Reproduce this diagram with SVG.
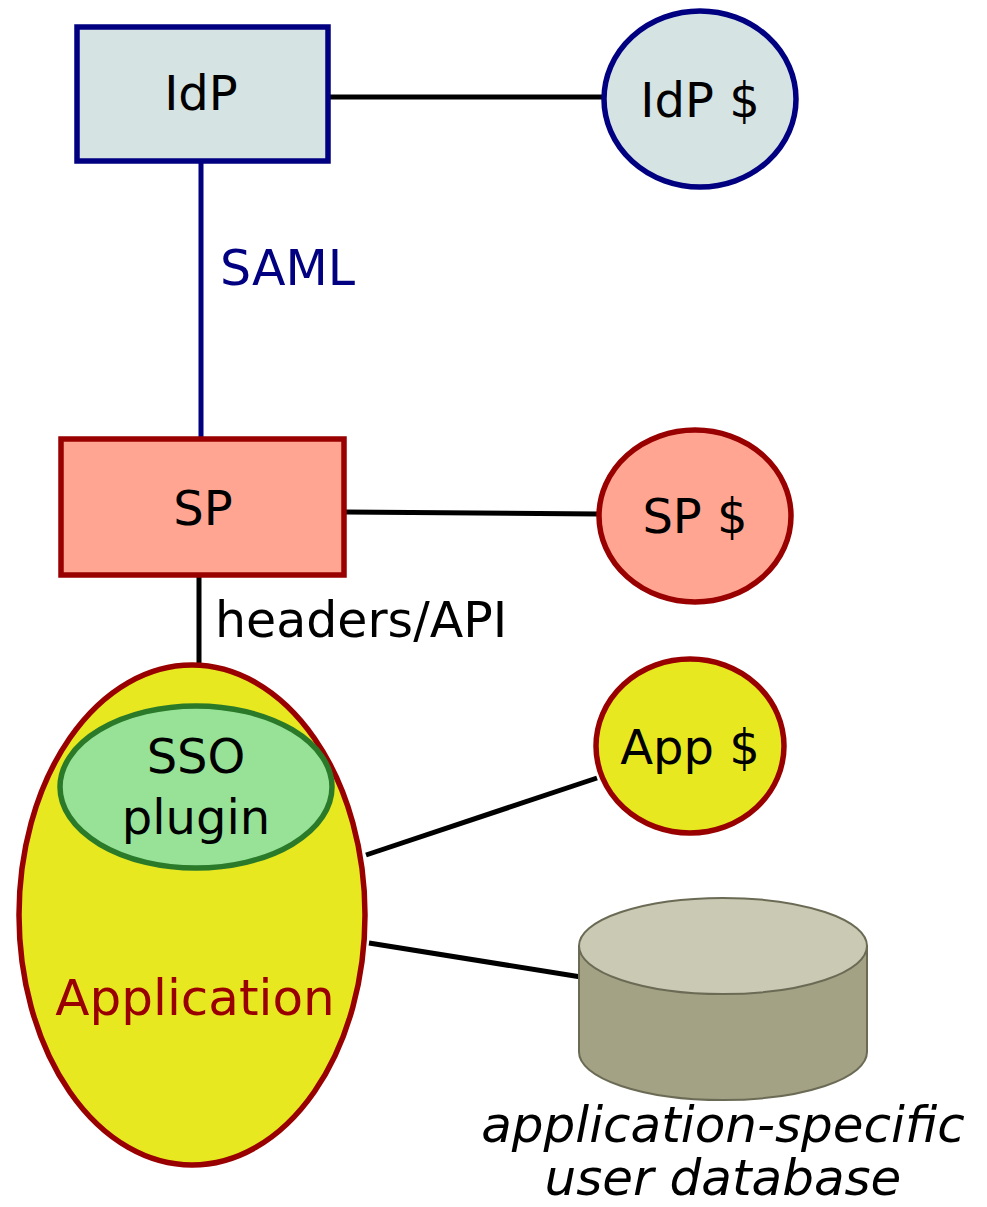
<svg xmlns="http://www.w3.org/2000/svg" width="987" height="1207" viewBox="0 0 987 1207">
<style>
text{font-family:"DejaVu Sans","Liberation Sans",sans-serif;font-size:48px;fill:#000;text-anchor:middle}
.blue{stroke:#000080;fill:#d6e3e3;stroke-width:5.5}
.red{stroke:#990000;stroke-width:5.5}
.link{stroke:#000;stroke-width:5;fill:none}
.db{stroke:#6b6b55;stroke-width:2}
.it{font-style:italic;font-size:50px}
</style>
<rect width="987" height="1207" fill="#fff"/>
<g id="connectors">
<line class="link" x1="328" y1="97" x2="604" y2="97"/>
<line x1="201" y1="162" x2="201" y2="438" stroke="#000080" stroke-width="5"/>
<line class="link" x1="345" y1="512" x2="599" y2="514"/>
<line class="link" x1="199" y1="577" x2="199" y2="707"/>
<line class="link" x1="366" y1="855" x2="597" y2="778"/>
<line class="link" x1="369" y1="943" x2="581" y2="977"/>
<text x="220" y="285" style="text-anchor:start;fill:#000080;font-size:49px">SAML</text>
<text x="215" y="637" style="text-anchor:start;font-size:49px">headers/API</text>
</g>
<g id="idp">
<rect class="blue" x="77" y="27" width="251" height="134"/>
<text x="201" y="110">IdP</text>
</g>
<g id="idp-cache">
<ellipse class="blue" cx="700" cy="99" rx="96" ry="88"/>
<text x="700" y="117">IdP $</text>
</g>
<g id="sp">
<rect class="red" x="61" y="439" width="283" height="136" fill="#ffa591"/>
<text x="203" y="525">SP</text>
</g>
<g id="sp-cache">
<ellipse class="red" cx="695" cy="516" rx="96" ry="86" fill="#ffa591"/>
<text x="695" y="533">SP $</text>
</g>
<g id="application">
<ellipse class="red" cx="192" cy="915" rx="173" ry="250" fill="#e8e820"/>
<text x="195" y="1015" style="fill:#990000;font-size:50px">Application</text>
</g>
<g id="sso-plugin">
<ellipse cx="196" cy="787" rx="136" ry="81" fill="#98e298" stroke="#2a7a2a" stroke-width="5.5"/>
<text x="196" y="773">SSO</text>
<text x="196" y="834">plugin</text>
</g>
<g id="app-cache">
<ellipse class="red" cx="690" cy="746" rx="94" ry="87" fill="#e8e820"/>
<text x="690" y="764">App $</text>
</g>
<g id="database">
<path class="db" d="M579 946 V1052 A144 48 0 0 0 867 1052 V946 Z" fill="#a3a285"/>
<ellipse class="db" cx="723" cy="946" rx="144" ry="48" fill="#c9c9b4"/>
<text class="it" x="723" y="1142">application-specific</text>
<text class="it" x="723" y="1195">user database</text>
</g>
</svg>
